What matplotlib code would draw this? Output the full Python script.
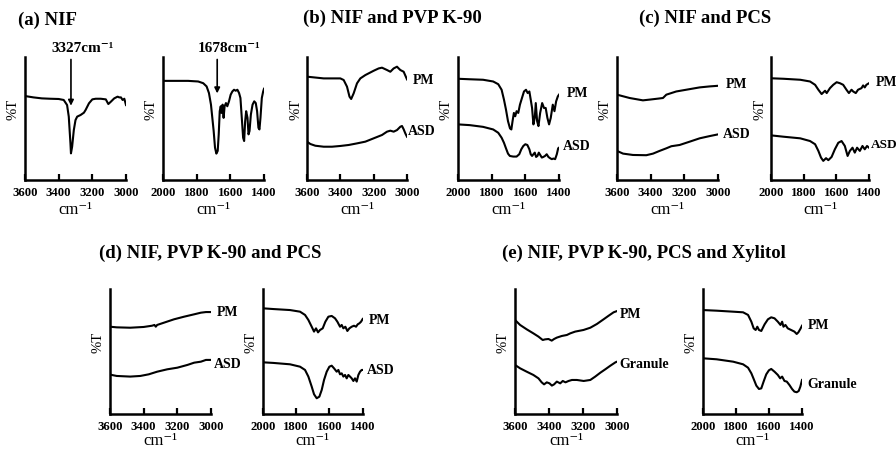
"""FTIR spectra panels: NIF, PVP K-90, PCS and Xylitol"""
import matplotlib
matplotlib.use('Agg')
import matplotlib.pyplot as plt

plt.rcParams['font.family'] = ['Liberation Serif', 'DejaVu Serif']
plt.rcParams['font.weight'] = 'bold'

# ---- data (wavenumber, %T in arbitrary units) ----
a1_wn = [3600, 3550, 3500, 3450, 3400, 3370, 3350, 3340, 3330, 3327, 3320, 3310, 3300, 3290, 3270, 3250,
         3240, 3220, 3200, 3180, 3150, 3120, 3105, 3090, 3070, 3050, 3040, 3030, 3020, 3010, 3000]
a1_t = [68.1, 67.0, 66.2, 65.9, 65.7, 64.9, 60.8, 51.4, 29.7, 21.6, 27.0, 40.5, 48.6, 51.4, 52.7, 54.6,
        56.8, 62.2, 65.4, 65.9, 65.9, 65.4, 61.6, 63.5, 66.2, 67.6, 67.0, 67.0, 64.9, 65.9, 60.8]

a2_wn = [2000, 1930, 1851, 1791, 1761, 1741, 1727, 1715, 1707, 1699, 1691, 1683, 1675, 1669, 1663, 1657,
         1652, 1646, 1640, 1634, 1626, 1618, 1608, 1598, 1588, 1578, 1568, 1558, 1548, 1540, 1532, 1524,
         1518, 1512, 1506, 1498, 1492, 1486, 1478, 1468, 1458, 1449, 1441, 1433, 1427, 1421, 1413, 1405, 1400]
a2_t = [80.4, 80.4, 80.4, 79.9, 78.5, 75.9, 70.5, 61.1, 50.4, 39.7, 26.2, 21.4, 23.6, 37.0, 55.8, 59.8,
        54.4, 61.1, 50.4, 59.8, 62.4, 59.8, 63.8, 69.2, 71.8, 73.2, 72.4, 73.2, 70.5, 66.5, 50.4, 34.3,
        31.6, 47.7, 55.8, 50.4, 37.0, 39.7, 53.1, 61.1, 63.8, 62.4, 55.8, 42.3, 41.0, 50.4, 66.5, 71.8, 74.0]

b1_pm_wn = [3600, 3500, 3400, 3380, 3360, 3345, 3335, 3320, 3300, 3280, 3250, 3200, 3170, 3150, 3120,
            3100, 3080, 3060, 3050, 3040, 3020, 3000]
b1_pm_t = [83.8, 82.4, 82.4, 81.1, 75.7, 67.6, 65.7, 70.3, 78.4, 82.4, 85.1, 88.6, 90.5, 91.1, 89.2,
           87.8, 90.5, 91.9, 90.5, 89.2, 87.8, 81.6]
b1_asd_wn = [3600, 3580, 3550, 3500, 3450, 3400, 3350, 3300, 3250, 3200, 3150, 3120, 3100, 3080, 3060,
             3040, 3030, 3020, 3010, 3000]
b1_asd_t = [31.1, 29.2, 27.8, 27.0, 27.0, 27.6, 28.4, 29.7, 31.1, 33.8, 36.5, 39.2, 40.0, 39.2, 40.5,
            43.2, 43.8, 41.1, 37.8, 35.1]

b2_pm_wn = [2000, 1930, 1851, 1791, 1761, 1741, 1727, 1715, 1703, 1691, 1683, 1676, 1668, 1660, 1652,
            1642, 1632, 1620, 1608, 1596, 1586, 1576, 1568, 1560, 1552, 1544, 1538, 1530, 1522, 1512,
            1500, 1489, 1479, 1469, 1459, 1449, 1437, 1427, 1417, 1407, 1400]
b2_pm_t = [82.1, 81.7, 81.3, 79.9, 77.7, 73.2, 65.2, 57.1, 47.7, 41.8, 41.0, 47.7, 54.4, 51.7, 55.8,
           54.4, 61.1, 66.5, 71.8, 73.2, 70.5, 71.8, 65.2, 58.4, 45.1, 50.4, 62.4, 47.7, 43.7, 54.4,
           62.4, 58.4, 58.4, 50.4, 45.1, 50.4, 61.1, 55.8, 63.8, 67.8, 69.2]
b2_asd_wn = [2000, 1930, 1851, 1791, 1761, 1741, 1727, 1715, 1703, 1692, 1672, 1652, 1636, 1624, 1612,
             1600, 1588, 1576, 1568, 1560, 1552, 1544, 1536, 1528, 1520, 1512, 1502, 1493, 1483, 1473,
             1463, 1453, 1443, 1433, 1423, 1413, 1405, 1400]
b2_asd_t = [45.1, 44.5, 43.1, 41.0, 38.3, 34.3, 30.2, 25.7, 21.4, 19.5, 19.0, 19.0, 20.9, 24.9, 27.6,
            29.0, 28.4, 24.9, 20.9, 19.5, 20.9, 22.2, 18.7, 19.5, 22.2, 20.4, 18.2, 18.7, 19.5, 20.9,
            18.7, 17.7, 16.9, 17.4, 16.9, 20.9, 25.7, 26.2]

c1_pm_wn = [3600, 3525, 3446, 3406, 3356, 3327, 3307, 3248, 3168, 3109, 3050, 3000]
c1_pm_t = [69.2, 66.5, 64.6, 65.2, 66.0, 66.5, 69.2, 71.8, 73.7, 75.1, 75.9, 76.4]
c1_asd_wn = [3600, 3564, 3505, 3426, 3386, 3347, 3307, 3277, 3228, 3168, 3109, 3050, 3000]
c1_asd_t = [23.6, 21.4, 20.3, 20.1, 21.4, 23.6, 25.7, 27.4, 28.4, 31.1, 33.8, 35.6, 37.0]

c2_pm_wn = [2000, 1923, 1821, 1761, 1730, 1710, 1690, 1669, 1659, 1639, 1619, 1598, 1578, 1558, 1538,
            1523, 1507, 1497, 1481, 1467, 1446, 1436, 1426, 1416, 1400]
c2_pm_t = [82.5, 82.1, 81.3, 79.9, 77.2, 73.2, 69.7, 72.4, 70.5, 74.5, 77.2, 79.3, 78.5, 77.2, 73.2,
           70.5, 73.2, 71.8, 70.5, 73.2, 74.5, 76.7, 75.1, 77.2, 78.5]
c2_asd_wn = [2000, 1923, 1821, 1761, 1730, 1710, 1694, 1680, 1663, 1649, 1629, 1609, 1588, 1568, 1548,
             1531, 1517, 1501, 1487, 1473, 1456, 1440, 1426, 1412, 1400]
c2_asd_t = [36.2, 35.1, 33.8, 31.6, 29.0, 23.6, 18.2, 15.5, 17.7, 16.1, 18.7, 24.9, 30.2, 31.6, 27.6,
            19.5, 23.6, 26.2, 22.2, 26.2, 23.6, 27.6, 24.9, 27.6, 26.2]

d1_pm_wn = [3600, 3560, 3480, 3400, 3350, 3336, 3328, 3320, 3280, 3220, 3160, 3100, 3060, 3030, 3000]
d1_pm_t = [69.9, 69.4, 69.1, 69.7, 70.7, 71.3, 69.9, 71.3, 73.1, 75.8, 77.9, 79.8, 81.1, 81.6, 81.6]
d1_asd_wn = [3600, 3590, 3560, 3480, 3420, 3370, 3320, 3260, 3200, 3140, 3100, 3060, 3030, 3000]
d1_asd_t = [31.9, 31.4, 30.6, 30.1, 30.6, 31.9, 34.0, 35.9, 37.2, 39.4, 41.2, 42.0, 43.4, 43.4]

d2_pm_wn = [2000, 1936, 1836, 1776, 1746, 1726, 1706, 1692, 1680, 1668, 1656, 1640, 1624, 1606, 1586,
            1566, 1552, 1536, 1526, 1516, 1504, 1492, 1480, 1466, 1452, 1440, 1430, 1420, 1410, 1400]
d2_pm_t = [84.6, 84.0, 83.2, 81.9, 79.3, 75.3, 69.9, 66.0, 68.6, 65.4, 67.3, 68.6, 73.9, 77.9, 78.5,
           76.6, 73.9, 69.9, 71.3, 68.6, 69.9, 66.5, 68.6, 69.9, 70.7, 69.9, 71.8, 72.6, 73.9, 76.1]
d2_asd_wn = [2000, 1936, 1836, 1776, 1746, 1726, 1706, 1692, 1676, 1660, 1646, 1632, 1616, 1600, 1586,
             1572, 1556, 1546, 1536, 1526, 1516, 1506, 1496, 1486, 1476, 1466, 1456, 1446, 1436, 1426,
             1416, 1406, 1400]
d2_asd_t = [41.5, 41.0, 39.9, 38.0, 35.4, 30.1, 22.1, 16.0, 12.8, 14.1, 19.4, 27.4, 34.0, 38.0, 38.8,
            36.7, 34.0, 35.4, 31.9, 32.7, 30.1, 31.4, 28.7, 31.4, 30.1, 28.7, 26.6, 28.7, 26.1, 31.4,
            34.0, 35.4, 35.4]

e1_pm_wn = [3600, 3570, 3531, 3492, 3462, 3437, 3423, 3403, 3384, 3370, 3354, 3325, 3295, 3275, 3246,
            3197, 3157, 3118, 3079, 3049, 3020, 3000]
e1_pm_t = [75.3, 71.3, 67.8, 64.6, 62.0, 59.3, 59.8, 60.1, 58.8, 60.1, 61.2, 62.5, 63.3, 64.6, 66.0,
           67.3, 69.1, 72.1, 75.8, 78.7, 81.4, 82.4]
e1_gr_wn = [3600, 3570, 3531, 3492, 3462, 3443, 3429, 3413, 3397, 3383, 3370, 3354, 3334, 3319, 3303,
            3285, 3265, 3236, 3196, 3157, 3128, 3098, 3069, 3039, 3009, 3000]
e1_gr_t = [39.4, 36.7, 34.0, 31.4, 28.7, 25.5, 23.9, 25.5, 24.7, 22.9, 23.9, 26.1, 24.7, 26.6, 25.5,
           26.6, 27.4, 27.4, 26.6, 27.4, 30.1, 33.2, 35.9, 38.8, 41.5, 42.0]

e2_pm_wn = [2000, 1916, 1816, 1756, 1726, 1706, 1692, 1680, 1670, 1660, 1646, 1626, 1606, 1586, 1566,
            1546, 1530, 1520, 1512, 1500, 1486, 1466, 1446, 1432, 1422, 1410, 1400]
e2_pm_t = [83.2, 82.7, 81.9, 81.4, 79.3, 73.9, 68.6, 67.3, 69.9, 67.3, 66.5, 71.8, 75.8, 77.4, 76.6,
           73.9, 71.3, 73.9, 69.9, 71.3, 68.6, 67.3, 66.0, 64.1, 65.4, 68.1, 70.7]
e2_gr_wn = [2000, 1916, 1816, 1756, 1726, 1706, 1692, 1676, 1660, 1646, 1632, 1616, 1600, 1586, 1566,
            1546, 1532, 1520, 1506, 1492, 1476, 1460, 1446, 1432, 1420, 1410, 1400]
e2_gr_t = [44.7, 43.9, 42.0, 39.9, 37.2, 32.7, 28.2, 22.9, 20.2, 20.7, 26.1, 31.9, 35.1, 36.2, 34.0,
           31.4, 28.7, 30.1, 26.6, 26.1, 23.4, 20.2, 18.1, 17.6, 18.6, 22.1, 27.4]

high_ticks = [3600, 3400, 3200, 3000]
low_ticks = [2000, 1800, 1600, 1400]

W, H = 896, 451
fig = plt.figure(figsize=(W / 100, H / 100), dpi=100)


def px_axes(left, right, top, bottom, ticks, xpad=2):
    ax = fig.add_axes([left / W, 1 - bottom / H, (right - left) / W, (bottom - top) / H])
    ax.set_xlim(ticks[0], ticks[-1])
    ax.set_ylim(0, 100)
    ax.set_xticks(ticks)
    ax.set_yticks([])
    for s in ['top', 'right']:
        ax.spines[s].set_visible(False)
    for s in ['left', 'bottom']:
        ax.spines[s].set_linewidth(1.8)
    ax.tick_params(axis='x', direction='in', length=4, width=1.6, labelsize=9.2, pad=5)
    ax.set_xlabel('cm\u207b\u00b9', fontsize=12, labelpad=xpad)
    ax.set_ylabel('%T', fontsize=10.5)
    ax.yaxis.set_label_coords(-0.05, 0.57)
    return ax


def label(ax, x, y, s, size=10):
    ax.text(x, y, s, fontsize=size, ha='left', va='center', clip_on=False)


lw = 1.5
top1, bot1 = 56.7, 180
top2, bot2 = 289, 414.3

# (a)
ax = px_axes(25, 126, top1, bot1, high_ticks)
ax.plot(a1_wn, a1_t, color='black', lw=lw)
ax.annotate('', xy=(3327, 58), xytext=(3327, 100), annotation_clip=False,
            arrowprops=dict(arrowstyle='-|>', color='black', lw=1.2, mutation_scale=8))
ax.text(3255, 107, '3327cm\u207b\u00b9', fontsize=11, ha='center', va='center', clip_on=False)

ax = px_axes(163, 264, top1, bot1, low_ticks)
ax.plot(a2_wn, a2_t, color='black', lw=lw)
ax.annotate('', xy=(1678, 68), xytext=(1678, 100), annotation_clip=False,
            arrowprops=dict(arrowstyle='-|>', color='black', lw=1.2, mutation_scale=8))
ax.text(1608, 107, '1678cm\u207b\u00b9', fontsize=11, ha='center', va='center', clip_on=False)

# (b)
ax = px_axes(307, 407, top1, bot1, high_ticks)
ax.plot(b1_pm_wn, b1_pm_t, color='black', lw=lw)
ax.plot(b1_asd_wn, b1_asd_t, color='black', lw=lw)
label(ax, 2964, 81, 'PM')
label(ax, 2995, 39, 'ASD')

ax = px_axes(458, 559, top1, bot1, low_ticks)
ax.plot(b2_pm_wn, b2_pm_t, color='black', lw=lw)
ax.plot(b2_asd_wn, b2_asd_t, color='black', lw=lw)
label(ax, 1352, 70, 'PM')
label(ax, 1376, 27, 'ASD')

# (c)
ax = px_axes(617, 718, top1, bot1, high_ticks)
ax.plot(c1_pm_wn, c1_pm_t, color='black', lw=lw)
ax.plot(c1_asd_wn, c1_asd_t, color='black', lw=lw)
label(ax, 2952, 77.5, 'PM')
label(ax, 2970, 37, 'ASD')

ax = px_axes(771, 869, top1, bot1, low_ticks)
ax.plot(c2_pm_wn, c2_pm_t, color='black', lw=lw)
ax.plot(c2_asd_wn, c2_asd_t, color='black', lw=lw)
label(ax, 1358, 79, 'PM')
label(ax, 1390, 28.4, 'ASD', size=9.5)

# (d)
ax = px_axes(110, 211, top2, bot2, high_ticks, xpad=0)
ax.plot(d1_pm_wn, d1_pm_t, color='black', lw=lw)
ax.plot(d1_asd_wn, d1_asd_t, color='black', lw=lw)
label(ax, 2967, 81, 'PM')
label(ax, 2985, 40, 'ASD')

ax = px_axes(262.7, 362.7, top2, bot2, low_ticks, xpad=0)
ax.plot(d2_pm_wn, d2_pm_t, color='black', lw=lw)
ax.plot(d2_asd_wn, d2_asd_t, color='black', lw=lw)
label(ax, 1362, 75, 'PM')
label(ax, 1376, 35, 'ASD')

# (e)
ax = px_axes(515, 617, top2, bot2, high_ticks, xpad=0)
ax.plot(e1_pm_wn, e1_pm_t, color='black', lw=lw)
ax.plot(e1_gr_wn, e1_gr_t, color='black', lw=lw)
label(ax, 2982, 80, 'PM')
label(ax, 2988, 39.4, 'Granule')

ax = px_axes(702.7, 802, top2, bot2, low_ticks, xpad=0)
ax.plot(e2_pm_wn, e2_pm_t, color='black', lw=lw)
ax.plot(e2_gr_wn, e2_gr_t, color='black', lw=lw)
label(ax, 1364, 70.5, 'PM')
label(ax, 1370, 24, 'Granule')

# panel titles
titles = [(18, 20, '(a) NIF'), (303, 18, '(b) NIF and PVP K-90'), (639, 18, '(c) NIF and PCS'),
          (99, 253, '(d) NIF, PVP K-90 and PCS'), (502, 253, '(e) NIF, PVP K-90, PCS and Xylitol')]
for x, y, s in titles:
    fig.text(x / W, 1 - y / H, s, fontsize=13.5, ha='left', va='center')

fig.savefig('out.png', dpi=100)
